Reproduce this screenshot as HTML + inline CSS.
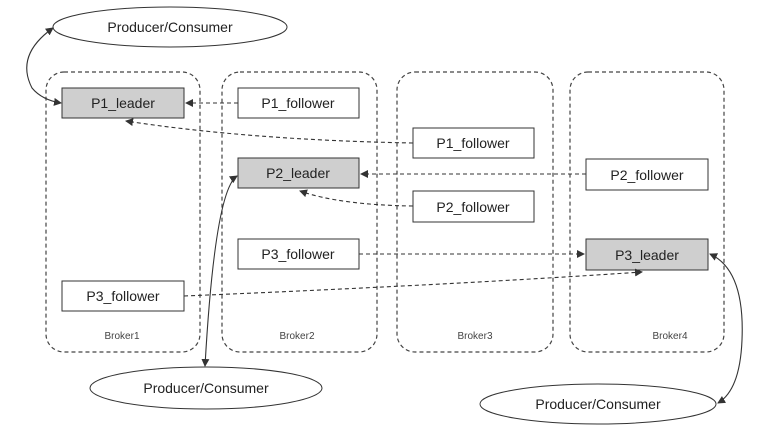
<!DOCTYPE html>
<html><head><style>
body{margin:0;background:#fff;}
svg{display:block;font-family:"Liberation Sans",sans-serif;}
</style></head><body>
<svg width="776" height="443" viewBox="0 0 776 443">
<defs>
<marker id="a" markerWidth="8" markerHeight="8" refX="7" refY="4" orient="auto" markerUnits="userSpaceOnUse"><path d="M0,0 L8,4 L0,8 z" fill="#333"/></marker>
<marker id="s" markerWidth="8" markerHeight="8" refX="1" refY="4" orient="auto" markerUnits="userSpaceOnUse"><path d="M8,0 L0,4 L8,8 z" fill="#333"/></marker>
</defs>
<g fill="none" stroke="#444" stroke-width="1.2" stroke-dasharray="4,3">
<rect x="46" y="72" width="154" height="280" rx="18"/>
<rect x="222" y="72" width="155" height="280" rx="18"/>
<rect x="397" y="72" width="156" height="280" rx="18"/>
<rect x="570" y="72" width="154" height="280" rx="18"/>
</g>
<g font-size="10" fill="#444" text-anchor="middle">
<text x="122" y="339">Broker1</text><text x="297" y="339">Broker2</text>
<text x="475" y="339">Broker3</text><text x="670" y="339">Broker4</text>
</g>
<g stroke="#333" stroke-width="1">
<rect x="62" y="88" width="122" height="30" fill="#cfcfcf"/>
<rect x="238" y="88" width="121" height="30" fill="#fff"/>
<rect x="413" y="128" width="121" height="30" fill="#fff"/>
<rect x="238" y="158" width="121" height="30" fill="#cfcfcf"/>
<rect x="586" y="159" width="122" height="31" fill="#fff"/>
<rect x="413" y="191" width="121" height="31" fill="#fff"/>
<rect x="238" y="239" width="121" height="30" fill="#fff"/>
<rect x="586" y="239" width="122" height="31" fill="#cfcfcf"/>
<rect x="62" y="281" width="122" height="30" fill="#fff"/>
<ellipse cx="170" cy="27" rx="117" ry="20" fill="#fff"/>
<ellipse cx="206" cy="388" rx="116" ry="21" fill="#fff"/>
<ellipse cx="598" cy="404" rx="118" ry="20" fill="#fff"/>
</g>
<g font-size="14" fill="#222" text-anchor="middle">
<text x="123" y="108">P1_leader</text>
<text x="298" y="108">P1_follower</text>
<text x="473" y="148">P1_follower</text>
<text x="298" y="178">P2_leader</text>
<text x="647" y="180">P2_follower</text>
<text x="473" y="212">P2_follower</text>
<text x="298" y="259">P3_follower</text>
<text x="647" y="260">P3_leader</text>
<text x="123" y="301">P3_follower</text>
<text x="170" y="32">Producer/Consumer</text>
<text x="206" y="393">Producer/Consumer</text>
<text x="598" y="409">Producer/Consumer</text>
</g>
<g fill="none" stroke="#333" stroke-width="1.1" stroke-dasharray="4,3">
<path d="M238,103 L186,103" marker-end="url(#a)"/>
<path d="M413,143 Q250,140 126,121" marker-end="url(#a)"/>
<path d="M586,174 L361,174" marker-end="url(#a)"/>
<path d="M413,206 Q340,205 300,191" marker-end="url(#a)"/>
<path d="M359,254 L584,254" marker-end="url(#a)"/>
<path d="M184,296 Q450,285 642,272" marker-end="url(#a)"/>
</g>
<g fill="none" stroke="#333" stroke-width="1.1">
<path d="M53,28 Q15,55 32,88 Q42,100 61,103" marker-start="url(#s)" marker-end="url(#a)"/>
<path d="M237,176 Q215,190 205,366" marker-start="url(#s)" marker-end="url(#a)"/>
<path d="M710,254 Q745,270 742,340 Q740,390 718,403" marker-start="url(#s)" marker-end="url(#a)"/>
</g>
</svg>
</body></html>
